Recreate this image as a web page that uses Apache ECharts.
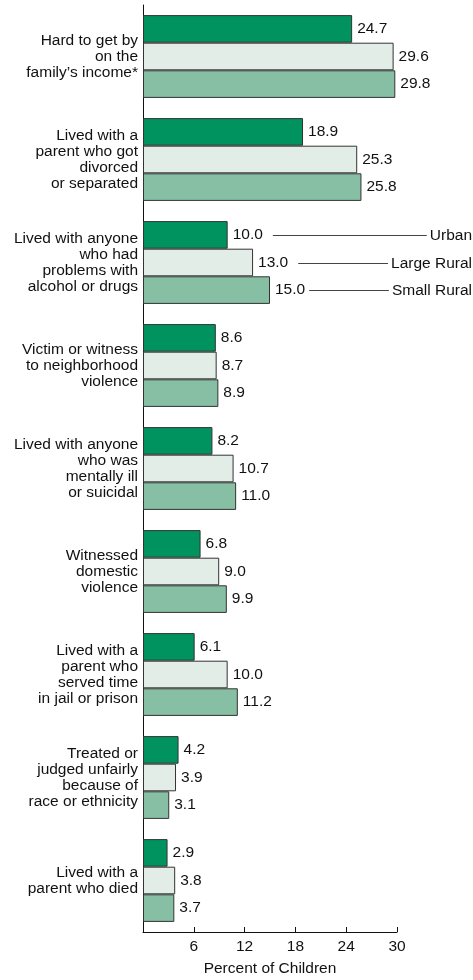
<!DOCTYPE html>
<html>
<head>
<meta charset="utf-8">
<style>
html,body{margin:0;padding:0;background:#fff;}
#main{width:473px;height:980px;}
</style>
<script src="https://cdn.jsdelivr.net/npm/echarts@6/dist/echarts.min.js"></script>
</head>
<body>
<div id="main"></div>
<script>
const categories = [
  "Hard to get by\non the\nfamily\u2019s income*",
  "Lived with a\nparent who got\ndivorced\nor separated",
  "Lived with anyone\nwho had\nproblems with\nalcohol or drugs",
  "Victim or witness\nto neighborhood\nviolence",
  "Lived with anyone\nwho was\nmentally ill\nor suicidal",
  "Witnessed\ndomestic\nviolence",
  "Lived with a\nparent who\nserved time\nin jail or prison",
  "Treated or\njudged unfairly\nbecause of\nrace or ethnicity",
  "Lived with a\nparent who died"
];
const seriesNames = ["Urban", "Large Rural", "Small Rural"];
const urban      = [24.7, 18.9, 10.0, 8.6, 8.2, 6.8, 6.1, 4.2, 2.9];
const largeRural = [29.6, 25.3, 13.0, 8.7, 10.7, 9.0, 10.0, 3.9, 3.8];
const smallRural = [29.8, 25.8, 15.0, 8.9, 11.0, 9.9, 11.2, 3.1, 3.7];
const xMin = 0, xMax = 30, xInterval = 6;
const legendCategoryIndex = 2;

const FONT = '"Liberation Sans", Arial, Helvetica, sans-serif';
const FS = 15.5;
const colors = ['#00935f', '#e3ede8', '#86bfa4'];
const seriesData = [urban, largeRural, smallRural];
const catGap = 0.196;

const chart = echarts.init(document.getElementById('main'), null, {renderer: 'canvas'});

const option = {
  animation: false,
  backgroundColor: '#ffffff',
  textStyle: {fontFamily: FONT},
  grid: {left: 143, right: 76, top: 5, bottom: 48, containLabel: false, outerBoundsMode: 'none'},
  xAxis: {
    type: 'value',
    min: xMin, max: xMax, interval: xInterval,
    name: 'Percent of Children',
    nameLocation: 'middle',
    nameGap: 29,
    nameTextStyle: {fontFamily: FONT, fontSize: FS, color: '#111'},
    axisLine: {show: true, lineStyle: {color: '#111', width: 1}},
    axisTick: {show: true, inside: true, length: 5, lineStyle: {color: '#111'}},
    axisLabel: {
      fontFamily: FONT, fontSize: FS, color: '#111', margin: 7,
      formatter: v => (v === 0 ? '' : String(v))
    },
    splitLine: {show: false}
  },
  yAxis: {
    type: 'category',
    data: categories,
    inverse: true,
    axisLine: {show: true, lineStyle: {color: '#111', width: 1}},
    axisTick: {show: false},
    axisLabel: {
      fontFamily: FONT, fontSize: FS, color: '#111', lineHeight: 16,
      align: 'right', margin: 5
    }
  },
  series: seriesNames.map((name, i) => ({
    name: name,
    type: 'bar',
    data: seriesData[i],
    barGap: '0%',
    barCategoryGap: (catGap * 100) + '%',
    itemStyle: {color: colors[i], borderColor: '#333', borderWidth: 1},
    label: {
      show: true, position: 'right', distance: 5,
      fontFamily: FONT, fontSize: FS, color: '#111',
      formatter: p => p.value.toFixed(1)
    }
  }))
};
chart.setOption(option);

// Legend leader lines next to the third category
const cv = document.createElement('canvas').getContext('2d');
cv.font = FS + 'px ' + FONT;
const c0 = chart.convertToPixel({yAxisIndex: 0}, 0);
const c1 = chart.convertToPixel({yAxisIndex: 0}, 1);
const band = Math.abs(c1 - c0);
const barW = band * (1 - catGap) / 3;
const catCenter = chart.convertToPixel({yAxisIndex: 0}, legendCategoryIndex);
const textRight = 472;
const graphics = [];
seriesNames.forEach((name, i) => {
  const v = seriesData[i][legendCategoryIndex];
  const barEnd = chart.convertToPixel({xAxisIndex: 0}, v);
  const labW = cv.measureText(v.toFixed(1)).width;
  const nameW = cv.measureText(name).width;
  const y = Math.round(catCenter + (i - 1) * barW) + 0.5;
  const x1 = barEnd + 5 + labW + (i === 2 ? 4 : 10);
  const x2 = textRight - nameW - 3;
  graphics.push({type: 'line', shape: {x1: x1, y1: y, x2: x2, y2: y}, style: {stroke: '#444', lineWidth: 1}});
  graphics.push({type: 'text', x: textRight, y: y,
    style: {text: name, font: FS + 'px ' + FONT, fill: '#111', align: 'right', verticalAlign: 'middle'}});
});
chart.setOption({graphic: graphics});
</script>
</body>
</html>
